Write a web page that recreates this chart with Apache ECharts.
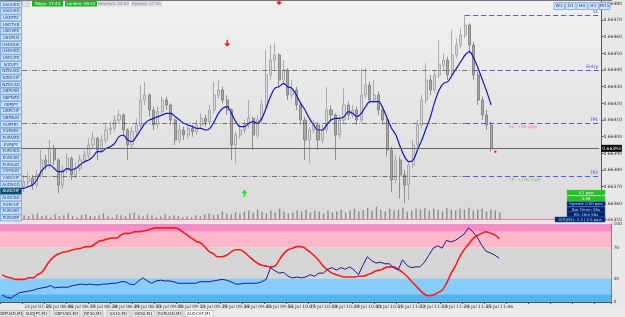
<!DOCTYPE html>
<html>
<head>
<meta charset="utf-8">
<script src="https://cdn.jsdelivr.net/npm/echarts/dist/echarts.min.js"></script>
<style>
  html, body { margin: 0; padding: 0; background: #e4e4e4; }
  #chart { width: 625px; height: 317px; }
</style>
</head>
<body>
<div id="chart"></div>
<script>
// AUDCHF M1 - prices kept as points (0.00001) above BASE
const BASE = 0.6635;

const candleOpen = [22,19,23,21,24,
  20,23,25,21,27,36,33,43,36,21, 30,37,27,31,36,39,45,49,42,48,
  54,55,60,63,54,45,53,57,72,75, 66,57,65,72,69,60,48,54,51,55,
  53,57,61,59,66,75,78,72,66,45, 51,54,57,61,51,60,69,87,96,99,
  84,90,75,78,69,60,48,54,57,48, 54,66,63,51,60,69,63,66,60,75,
  81,72,75,66,60,42,24,36,27,21, 33,45,57,72,84,78,87,93,96,87,
  99,105,111,117,105,87,72,63,57];
const candleClose = [19,23,21,24,20,
  23,25,21,27,36,33,43,36,21,30, 37,27,31,36,39,45,49,42,48,54,
  55,60,63,54,45,53,57,72,75,66, 57,65,72,69,60,48,54,51,55,53,
  57,61,59,66,75,78,72,66,45,51, 54,57,61,51,60,69,87,96,99,84,
  90,75,78,69,60,48,54,57,48,54, 66,63,51,60,69,63,66,60,75,81,
  72,75,66,60,42,24,36,27,21,33, 45,57,72,84,78,87,93,96,87,99,
  105,111,117,105,87,72,63,57,43];
const candleHigh = [24,26,25,27,25,
  27,29,27,30,42,39,48,45,37,33, 40,38,34,39,42,49,53,50,51,57,
  59,63,66,64,55,56,61,81,83,76, 68,68,74,74,70,61,57,56,58,57,
  60,64,63,69,83,84,80,75,67,53, 57,60,72,62,63,72,102,105,106,100,
  96,91,84,80,71,62,56,60,59,57, 80,69,64,63,79,71,69,68,91,91,
  83,84,77,68,61,44,39,38,30,35, 48,60,75,94,87,90,108,100,98,114,
  109,115,123,118,107,89,74,66,59];
const candleLow = [17,18,19,20,18,
  17,20,18,19,25,30,31,33,16,19, 28,24,25,29,34,37,43,36,40,46,
  51,53,58,50,36,43,50,55,69,62, 54,55,63,66,57,45,46,48,49,50,
  51,55,56,57,64,73,70,63,36,34, 49,52,55,42,49,58,67,84,90,80,
  82,72,73,66,57,36,34,52,42,46, 52,60,36,49,58,60,61,57,58,73,
  70,70,63,57,38,17,22,13,10,12, 31,43,55,70,75,76,85,90,84,85,
  97,103,109,100,84,69,60,54,41];
const maValues = [17,17,18,18,19,
  19,20,21,24,29,32,33,31,29,29, 31,30,31,33,35,36,38,41,41,43,
  44,46,50,51,48,47,50,54,58,60, 61,62,63,64,64,62,60,58,57,56,
  55,55,54,55,59,64,67,68,64,59, 56,56,58,59,58,61,67,74,79,80,
  82,80,79,75,70,66,61,57,54,54, 57,60,61,61,62,65,64,62,64,68,
  71,71,71,67,61,55,51,44,38,35, 36,42,48,55,62,71,78,82,83,87,
  91,95,99,101,97,91,84,77,69];
const volumes = [3,4,2,5,3,
  4,3,5,6,3,4,2,5,3,4,6,3,2,4,5,3,
  3,4,6,3,2,5,4,3,6,7,4,3,5,4,2,3,5,3,4,3,
  2,3,2,4,3,5,6,4,5,8,6,5,7,6,8,
  9,7,10,8,6,9,7,11,8,6,7,9,8,10,7,9,8,6,9,7,
  8,10,7,9,11,8,10,12,9,13,10,8,11,9,10,12,8,9,11,10,
  12,9,11,10,8,12,10,9,11,10,12,9,10,11,8,10,9,7];
const oscSlow = [35,32,31,29,29,29,31,31,35,38, 46,54,59,62,64,65,67,68,69,71,
  71,74,78,79,81,82,82,86,88,88, 90,90,91,92,94,95,95,95,95,95,
  94,90,86,82,78,76,71,65,62,58, 58,60,64,67,67,64,59,54,50,47,
  46,45,46,54,62,67,69,71,71,68, 64,59,53,46,41,37,35,33,32,32,
  32,33,33,35,37,40,41,44,45,45, 42,38,33,27,21,15,10,8,9,12,
  15,24,36,46,58,67,74,81,85,88, 90,88,86,81];
const oscFast = [9,6,5,9,12,13,14,15,17,18, 19,21,18,19,19,19,21,22,23,22,
  23,22,22,23,23,24,24,26,26,23, 22,27,31,27,24,27,28,27,27,26,
  24,24,24,24,24,26,26,26,27,28, 29,28,26,23,23,24,24,24,24,26,
  29,44,40,37,38,33,31,32,31,32, 35,33,37,37,42,44,41,44,42,45,
  41,35,47,58,53,50,51,49,49,44, 41,54,47,44,45,45,51,60,69,72,
  69,79,77,79,83,87,95,90,83,73, 65,63,60,56];

const tickLabels = ["23 Jul 07:43","23 Jul 07:55","23 Jul 08:06","23 Jul 08:17","23 Jul 08:28",
  "23 Jul 08:39","23 Jul 08:50","23 Jul 09:01","23 Jul 09:12","23 Jul 09:23","23 Jul 09:34",
  "23 Jul 09:45","23 Jul 09:56","23 Jul 10:07","23 Jul 10:18","23 Jul 10:29","23 Jul 10:40",
  "23 Jul 10:51","23 Jul 11:02","23 Jul 11:13","23 Jul 11:24","23 Jul 11:35","23 Jul 11:46"];

// trade levels (points above BASE) and the bar where the blue line starts
const levelNames = ["SL", "Entry", "TP1", "TP2"];
const levelPts = [123, 90, 58, 26];
const levelStart = [107, 109, 107, 107];
const currentPts = 43;

const sidebarSymbols = ["XAUUSD","XAGUSD","USDTRY","USDTHB","USDSEK","USDPLN","USDNOK","USDHKD",
  "USDCZK","SGDJPY","NZDUSD","NZDCHF","NZDCAD","GBPUSD","GBPNZD","GBPJPY","GBPCHF","GBPAUD",
  "EURTRY","EURSEK","EURNZD","EURJPY","EURHKD","EURCAD","EURAUD","CHFSGD","CADCHF","AUDSGD",
  "AUDCHF","AUDCAD","EURCHF","EURUSD","EURGBP"];
const activeSymbol = "AUDCHF";
const tabNames = ["GBPUSD,M1","AUDJPY,M1","GBPUSD,M1","DE30,M1","US30,M1","HK50,M1","EURUSD,M1","AUDCHF,M1"];
const infoLines = ["4.1 pips","4.09","Spread: 0.00 pips","Bar Timer: 56s","H1: 16m 56s","ATR(M1): 1.5 | 2.5 pips"];

const FONT = "DejaVu Sans";
const N = 139; // bar slots, includes the empty space right of the last bar
const cats = [];
for (let i = 0; i < N; i++) cats.push(String(i));

function px(p) { return +(BASE + p / 100000).toFixed(5); }

const candles = candleOpen.map((o, i) => [px(o), px(candleClose[i]), px(candleLow[i]), px(candleHigh[i])]);

// horizontal lines
const dashDot = [5, 2, 1, 2];
const greyLine = { color: "#555", type: dashDot, width: 0.8 };
const blueLine = { color: "#5555ff", type: [5, 3], width: 1 };
let lines = [];
const curLbl = { show: true, position: "end", formatter: px(currentPts).toFixed(5), color: "#fff", backgroundColor: "#000", fontSize: 4.5, fontFamily: FONT, padding: [1, 1], distance: 2 };
const curLine = { color: "#666", type: "solid", width: 1 };
lines.push([
  { coord: ["0", px(currentPts)], lineStyle: curLine, label: curLbl },
  { coord: [String(N - 1), px(currentPts)], lineStyle: curLine, label: curLbl }
]);
levelPts.forEach((v, k) => {
  if (k > 0) {
    lines.push([
      { coord: ["0", px(v)], lineStyle: greyLine },
      { coord: [String(levelStart[k]), px(v)], lineStyle: greyLine }
    ]);
  }
  const lbl = { show: true, position: "insideEndTop", formatter: levelNames[k], color: "#3c3cff", fontSize: 4.5, fontFamily: FONT, distance: 1 };
  lines.push([
    { coord: [String(levelStart[k]), px(v)], lineStyle: blueLine, label: lbl },
    { coord: [String(N - 1), px(v)], lineStyle: blueLine, label: lbl }
  ]);
});

const downArrow = "path://M3,0 L5,0 L5,4 L8,4 L4,8 L0,4 L3,4 Z";
const upArrow = "path://M3,8 L5,8 L5,4 L8,4 L4,0 L0,4 L3,4 Z";

function textPoint(j, v, txt, color) {
  return {
    coord: [String(j), px(v)], symbol: "rect", symbolSize: 1,
    itemStyle: { color: "rgba(0,0,0,0)" },
    label: { show: true, position: "right", distance: 0, formatter: txt, color: color, fontSize: 4.5, fontFamily: FONT }
  };
}

// ---- UI chrome (terminal panels) ----
const graphics = [];
graphics.push({ type: "line", shape: { x1: 0, y1: 0.5, x2: 612, y2: 0.5 }, style: { stroke: "#777", lineWidth: 1 }, z: 100 });
graphics.push({ type: "line", shape: { x1: 0, y1: 219.5, x2: 612, y2: 219.5 }, style: { stroke: "#f07ab4", lineWidth: 1 }, z: 100 });
sidebarSymbols.forEach((s, i) => {
  const active = s === activeSymbol;
  graphics.push({
    type: "rect", shape: { x: 0.5, y: 1.5 + i * 6.67, width: 21, height: 6 },
    style: { fill: active ? "#0d4a66" : "#cfe3f8", stroke: active ? "#1c6f95" : "#6b9fe2", lineWidth: 0.8 }, z: 100
  });
  graphics.push({
    type: "text", x: 11, y: 4.5 + i * 6.67,
    style: { text: s, fill: active ? "#ffffff" : "#1b3d8a", fontSize: 4, fontFamily: FONT, align: "center", verticalAlign: "middle" }, z: 101
  });
});
const sessions = [
  { t: "Tokyo: 17:43", x: 32, w: 31, fill: "#22b522", c: "#fff" },
  { t: "London: 09:43", x: 65, w: 32, fill: "#22b522", c: "#fff" },
  { t: "NewYork: 04:43", x: 98, w: 31, fill: "#dcdce8", c: "#888" },
  { t: "Sydney: 17:43", x: 131, w: 31, fill: "#dcdce8", c: "#888" }
];
graphics.push({ type: "rect", shape: { x: 22, y: 1, width: 7, height: 5.5 }, style: { fill: "#e0e0ea", stroke: "#b0b0c0", lineWidth: 0.5 }, z: 100 });
sessions.forEach(s => {
  graphics.push({ type: "rect", shape: { x: s.x, y: 1, width: s.w, height: 5.5 }, style: { fill: s.fill }, z: 100 });
  graphics.push({ type: "text", x: s.x + s.w / 2, y: 3.8, style: { text: s.t, fill: s.c, fontSize: 4, fontFamily: FONT, align: "center", verticalAlign: "middle" }, z: 101 });
});
["W1", "D1", "H4", "H1", "M15"].forEach((t, i) => {
  graphics.push({ type: "rect", shape: { x: 554 + i * 11.4, y: 2.5, width: 10.4, height: 7 }, style: { fill: "#d3e4f8", stroke: "#7aa6e0", lineWidth: 0.8 }, z: 100 });
  graphics.push({ type: "text", x: 559.2 + i * 11.4, y: 6, style: { text: t, fill: "#1b3d8a", fontSize: 4.5, fontFamily: FONT, align: "center", verticalAlign: "middle" }, z: 101 });
});
const infoFill = ["#22c322", "#22c322", "#0b1f66", "#0b1f66", "#0b1f66", "#0b1f66"];
const infoY = [190, 196, 201.5, 207, 212, 217];
infoLines.forEach((t, i) => {
  const x0 = i === 5 ? 555 : 567;
  graphics.push({ type: "rect", shape: { x: x0, y: infoY[i], width: 605 - x0, height: 5 }, style: { fill: infoFill[i], stroke: i > 1 ? "#2a5fb0" : "#5ad35a", lineWidth: 0.5 }, z: 100 });
  graphics.push({ type: "text", x: (x0 + 605) / 2, y: infoY[i] + 2.6, style: { text: t, fill: i > 1 ? "#8fe8ff" : "#ffffff", fontSize: 3.8, fontFamily: FONT, align: "center", verticalAlign: "middle" }, z: 101 });
});
const tabX = [0, 23, 53, 83, 107, 132, 157, 185];
const tabW = [22, 27, 27, 20, 23, 23, 26, 28];
graphics.push({ type: "rect", shape: { x: 0, y: 310, width: 625, height: 7 }, style: { fill: "#ececec" }, z: 99 });
tabNames.forEach((t, i) => {
  const active = i === tabNames.length - 1;
  graphics.push({ type: "rect", shape: { x: tabX[i], y: 310.5, width: tabW[i], height: 6.5 }, style: { fill: active ? "#ffffff" : "#e6e6e6", stroke: "#a8a8a8", lineWidth: 0.6 }, z: 100 });
  graphics.push({ type: "text", x: tabX[i] + tabW[i] / 2, y: 314, style: { text: t, fill: "#333", fontSize: 4, fontFamily: FONT, align: "center", verticalAlign: "middle" }, z: 101 });
});

const option = {
  animation: false,
  backgroundColor: "#e8e8e8",
  textStyle: { fontFamily: FONT },
  grid: [
    { left: 0, right: 13, top: 0, height: 220, show: true, borderWidth: 0,
      backgroundColor: new echarts.graphic.LinearGradient(0, 0, 0, 1, [{ offset: 0, color: "#f1f1f1" }, { offset: 1, color: "#dadada" }]) },
    { left: 0, right: 13, top: 204, height: 15 },
    { left: 0, right: 13, top: 224, height: 78 }
  ],
  xAxis: [
    { type: "category", gridIndex: 0, data: cats, boundaryGap: true, axisLine: { show: false }, axisTick: { show: false }, axisLabel: { show: false }, splitLine: { show: false } },
    { type: "category", gridIndex: 1, data: cats, boundaryGap: true, show: false },
    { type: "category", gridIndex: 2, data: cats, boundaryGap: true,
      axisLine: { show: true, lineStyle: { color: "#555" } },
      axisTick: { show: true, interval: 4, length: 2, lineStyle: { color: "#555" } },
      axisLabel: { interval: 4, fontSize: 4.5, color: "#333", margin: 2, align: "left",
        formatter: v => tickLabels[Number(v) / 5] || "" } }
  ],
  yAxis: [
    { type: "value", gridIndex: 0, position: "right", min: 0.6635, max: 0.66482, interval: 0.0001,
      splitLine: { show: false },
      axisLine: { show: true, lineStyle: { color: "#555" } },
      axisTick: { show: true, length: 2, lineStyle: { color: "#555" } },
      axisLabel: { fontSize: 4.5, color: "#333", margin: 2, showMaxLabel: false, formatter: v => v.toFixed(5) } },
    { type: "value", gridIndex: 1, min: 0, max: 16, show: false },
    { type: "value", gridIndex: 2, position: "right", min: 0, max: 100, interval: 10,
      splitLine: { show: false },
      axisLine: { show: true, lineStyle: { color: "#555" } },
      axisTick: { show: false },
      axisLabel: { fontSize: 4.5, color: "#333", margin: 2,
        formatter: v => ([0, 30, 70, 100].indexOf(v) >= 0 ? String(v) : "") } }
  ],
  series: [
    {
      type: "bar", xAxisIndex: 1, yAxisIndex: 1, data: volumes, barWidth: 1.4,
      itemStyle: { color: "#8c8c8c" }, silent: true
    },
    {
      type: "candlestick", xAxisIndex: 0, yAxisIndex: 0, data: candles, barWidth: 2.6,
      itemStyle: { color: "#dcdcdc", color0: "#a8a8a8", borderColor: "#9a9a9a", borderColor0: "#7a7a7a", borderWidth: 0.8 },
      markLine: { silent: true, symbol: ["none", "none"], animation: false, label: { show: false },
        lineStyle: { color: "#5555ff", type: [5, 3], width: 1 }, data: lines },
      markPoint: {
        silent: true, animation: false,
        data: [
          { coord: ["52", px(106)], symbol: downArrow, symbolSize: [6, 7], itemStyle: { color: "#ff1a1a" }, label: { show: false } },
          { coord: ["64", px(131)], symbol: downArrow, symbolSize: [6, 7], itemStyle: { color: "#ff1a1a" }, label: { show: false } },
          { coord: ["56", px(16)], symbol: upArrow, symbolSize: [6, 7], itemStyle: { color: "#22e022" }, label: { show: false } },
          { coord: ["114", px(41)], symbol: "rect", symbolSize: 2, itemStyle: { color: "#e01010" }, label: { show: false } },
          textPoint(117, 56, "SL: +50 pips", "#e87878"),
          textPoint(117, 24, "TP: +100 pips", "#6cc46c")
        ]
      }
    },
    {
      type: "line", xAxisIndex: 0, yAxisIndex: 0, data: maValues.map(px), smooth: 0.3,
      showSymbol: false, lineStyle: { color: "#1414c8", width: 1.2 }, silent: true
    },
    {
      type: "line", xAxisIndex: 2, yAxisIndex: 2, data: oscSlow, smooth: 0.4, showSymbol: false, z: 5,
      lineStyle: { color: "#ff1c1c", width: 1.6 }, silent: true,
      markArea: {
        silent: true,
        data: [
          [{ yAxis: 90, itemStyle: { color: "#f78cc8" } }, { yAxis: 100 }],
          [{ yAxis: 70, itemStyle: { color: "#ffb8c8" } }, { yAxis: 90 }],
          [{ yAxis: 30, itemStyle: { color: "#d6d6d6" } }, { yAxis: 70 }],
          [{ yAxis: 10, itemStyle: { color: "#88cdf8" } }, { yAxis: 30 }],
          [{ yAxis: 0, itemStyle: { color: "#56b5ef" } }, { yAxis: 10 }]
        ]
      }
    },
    {
      type: "line", xAxisIndex: 2, yAxisIndex: 2, data: oscFast, showSymbol: false, z: 6,
      lineStyle: { color: "#1a1a90", width: 1 }, silent: true
    }
  ],
  graphic: graphics
};

const chart = echarts.init(document.getElementById("chart"), null, { renderer: "canvas" });
chart.setOption(option);
</script>
</body>
</html>
